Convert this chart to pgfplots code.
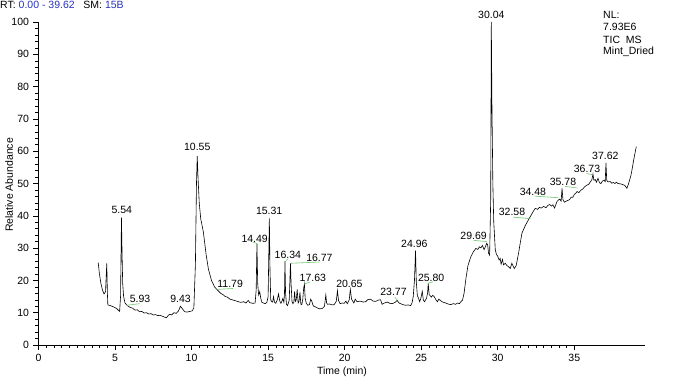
\documentclass[border=0pt]{standalone}
\usepackage{pgfplots}
\pgfplotsset{compat=1.18}
\usepackage{fontspec}
\setmainfont{Liberation Sans}
\definecolor{rtblue}{RGB}{40,50,190}
\definecolor{annot}{RGB}{110,200,110}
\pgfplotstableread{
t y
3.90 25.5
3.98 22.0
4.08 19.0
4.18 17.0
4.28 15.8
4.38 16.5
4.42 21.0
4.46 25.3
4.50 16.0
4.53 12.4
4.70 12.2
4.90 11.8
5.10 11.3
5.30 10.4
5.36 15.0
5.42 39.4
5.46 28.0
5.50 19.0
5.56 15.0
5.65 13.0
5.80 12.2
6.00 11.6
6.15 11.4
6.30 10.8
6.45 10.9
6.60 10.3
6.75 10.4
6.90 9.9
7.05 10.0
7.20 9.6
7.35 9.7
7.50 9.3
7.65 9.4
7.80 9.1
7.95 9.2
8.10 8.9
8.20 8.7
8.35 8.4
8.45 9.0
8.55 9.5
8.70 9.3
8.85 10.0
9.00 9.8
9.15 10.6
9.27 12.0
9.40 11.2
9.55 10.3
9.70 10.2
9.90 10.4
10.05 10.6
10.15 11.5
10.25 25.0
10.32 50.0
10.37 58.5
10.42 52.0
10.50 44.0
10.60 39.0
10.77 35.0
10.95 28.0
11.10 23.5
11.30 20.0
11.50 18.0
11.65 17.2
11.90 16.0
12.05 15.6
12.20 15.0
12.35 14.8
12.50 14.2
12.65 14.0
12.80 13.8
13.00 13.5
13.20 13.2
13.40 13.4
13.55 13.0
13.70 13.8
13.80 13.1
14.00 12.9
14.15 13.0
14.22 17.0
14.27 31.4
14.32 19.0
14.38 15.5
14.45 16.5
14.52 14.5
14.59 13.2
14.70 13.0
14.81 12.8
14.92 13.2
15.00 15.0
15.05 30.0
15.08 39.2
15.12 24.0
15.17 14.0
15.22 13.5
15.30 13.3
15.35 15.0
15.42 13.2
15.50 12.9
15.60 14.0
15.68 15.8
15.76 13.6
15.84 12.9
15.90 13.6
15.96 14.4
16.03 13.2
16.07 16.0
16.10 26.0
16.14 16.0
16.20 12.6
16.26 12.2
16.33 13.0
16.38 14.0
16.46 25.3
16.50 19.0
16.56 13.5
16.62 12.8
16.68 13.2
16.73 16.6
16.78 13.5
16.84 14.0
16.90 17.2
16.96 13.0
17.02 13.5
17.08 16.3
17.14 12.6
17.20 12.5
17.26 14.0
17.32 17.5
17.37 18.9
17.42 14.5
17.50 12.8
17.60 12.3
17.70 12.5
17.78 14.2
17.86 13.5
17.92 12.4
17.98 12.0
18.10 11.8
18.20 11.5
18.35 11.2
18.54 11.3
18.68 12.0
18.77 15.5
18.82 13.0
18.88 12.6
19.00 12.7
19.13 12.5
19.25 12.4
19.33 12.6
19.45 13.5
19.53 16.8
19.60 13.8
19.70 12.8
19.85 13.0
19.97 12.9
20.08 13.6
20.17 12.8
20.30 14.0
20.37 17.2
20.45 14.2
20.60 13.0
20.69 14.2
20.81 13.4
21.00 13.6
21.20 13.3
21.37 13.4
21.50 14.0
21.69 14.2
21.85 13.6
22.02 13.5
22.20 13.9
22.35 14.0
22.44 12.6
22.60 13.0
22.78 13.3
22.95 12.9
23.11 12.8
23.30 13.2
23.43 13.8
23.55 13.0
23.65 12.8
23.80 12.5
23.98 12.3
24.15 12.4
24.31 12.2
24.40 13.0
24.48 15.0
24.56 20.0
24.63 29.2
24.68 19.5
24.75 15.2
24.82 14.6
24.90 13.4
24.98 14.5
25.07 16.6
25.14 13.9
25.22 13.4
25.35 14.5
25.42 16.2
25.46 19.1
25.52 15.6
25.60 15.2
25.66 14.8
25.76 15.4
25.86 14.9
25.96 14.0
26.06 13.4
26.15 14.2
26.25 13.8
26.40 13.3
26.60 13.0
26.75 12.7
26.93 12.5
27.10 12.8
27.25 12.6
27.37 13.0
27.50 12.8
27.59 13.4
27.70 13.9
27.80 16.0
27.92 20.5
28.05 24.5
28.24 27.3
28.40 28.8
28.57 29.9
28.70 29.6
28.80 30.4
28.90 30.1
29.00 30.8
29.11 29.5
29.20 30.5
29.28 31.5
29.34 31.0
29.40 28.4
29.47 27.8
29.54 45.0
29.58 100.0
29.62 75.0
29.68 50.0
29.74 38.0
29.84 29.4
29.92 28.0
30.00 27.5
30.09 26.3
30.16 26.8
30.22 25.0
30.31 26.5
30.38 24.8
30.49 25.3
30.60 24.6
30.72 24.2
30.82 23.7
30.92 25.3
30.97 24.8
31.08 23.7
31.20 24.5
31.36 28.4
31.45 31.0
31.58 34.6
31.80 37.0
32.12 39.7
32.30 41.2
32.45 42.3
32.60 42.0
32.72 42.6
32.84 42.4
33.00 42.9
33.15 42.5
33.27 43.2
33.40 43.5
33.50 43.0
33.60 43.4
33.71 42.4
33.87 44.4
33.95 44.8
34.05 45.2
34.14 44.5
34.20 48.5
34.26 45.0
34.36 44.2
34.50 44.6
34.69 45.0
34.80 45.8
34.90 45.7
35.00 46.6
35.10 47.0
35.18 47.5
35.30 47.2
35.45 48.0
35.56 48.3
35.68 49.0
35.83 49.5
35.95 49.8
36.05 50.5
36.15 51.2
36.22 52.9
36.28 51.0
36.37 51.2
36.45 50.4
36.55 51.6
36.65 50.2
36.74 50.0
36.85 50.8
36.94 51.0
37.02 50.6
37.07 56.4
37.12 51.0
37.20 50.5
37.35 50.6
37.45 50.1
37.55 50.3
37.65 50.0
37.75 50.4
37.85 50.0
38.00 49.9
38.15 49.7
38.30 49.4
38.44 48.5
38.55 50.0
38.70 52.5
38.80 55.0
38.88 57.3
38.97 59.5
39.05 61.4
}\tic
\begin{document}
\begin{tikzpicture}
\begin{axis}[
  scale only axis, width=606.5bp, height=323bp,
  xmin=0, xmax=39.62, ymin=0, ymax=100,
  axis x line=bottom, axis y line=left,
  axis line style={-, line width=0.6bp, black},
  xtick={0,5,...,35}, minor x tick num=9,
  ytick={0,10,...,100}, minor y tick num=4,
  tick align=outside,
  major tick length=5bp, minor tick length=3bp,
  tick style={black, line width=0.5bp},
  every tick label/.append style={font=\fontsize{10.5bp}{12bp}\selectfont, text=black},
  /pgf/number format/assume math mode=true,
  xticklabel style={yshift=-1bp},
  yticklabel style={xshift=-1bp},
  clip=false,
]
\addplot[black, line width=0.6bp] table[x=t, y=y] {\tic};
% peak labels
\begin{scope}[every node/.style={font=\fontsize{10.5bp}{12bp}\selectfont, inner sep=0pt}]
\node at (axis cs:5.44,41.8) {5.54};
\node at (axis cs:6.63,14.3) {5.93};
\node at (axis cs:9.28,14.3) {9.43};
\node at (axis cs:10.37,61.3) {10.55};
\node at (axis cs:12.52,18.9) {11.79};
\node at (axis cs:14.12,32.9) {14.49};
\node at (axis cs:15.07,41.5) {15.31};
\node at (axis cs:16.29,27.8) {16.34};
\node at (axis cs:18.35,27.1) {16.77};
\node at (axis cs:17.92,20.7) {17.63};
\node at (axis cs:20.31,19.0) {20.65};
\node at (axis cs:23.19,16.3) {23.77};
\node at (axis cs:24.55,31.4) {24.96};
\node at (axis cs:25.65,20.8) {25.80};
\node at (axis cs:28.42,33.7) {29.69};
\node at (axis cs:29.58,102.2) {30.04};
\node at (axis cs:30.93,41.2) {32.58};
\node at (axis cs:32.30,47.4) {34.48};
\node at (axis cs:34.26,50.5) {35.78};
\node at (axis cs:35.83,54.5) {36.73};
\node at (axis cs:37.03,58.6) {37.62};
\end{scope}
% annotation connector lines
\begin{scope}[annot, line width=0.6bp]
\draw (axis cs:5.78,12.3) -- (axis cs:6.60,12.8);
\draw (axis cs:11.62,17.2) -- (axis cs:12.70,17.5);
\draw (axis cs:14.00,31.9) -- (axis cs:14.27,31.4);
\draw (axis cs:16.18,26.2) -- (axis cs:16.30,26.6);
\draw (axis cs:16.48,25.3) -- (axis cs:18.35,25.7);
\draw (axis cs:17.37,18.9) -- (axis cs:17.72,19.5);
\draw (axis cs:23.28,14.8) -- (axis cs:23.43,13.9);
\draw (axis cs:25.46,19.1) -- (axis cs:25.78,19.6);
\draw (axis cs:28.42,32.4) -- (axis cs:29.30,32.0);
\draw (axis cs:31.00,39.6) -- (axis cs:32.15,39.1);
\draw (axis cs:32.40,46.1) -- (axis cs:33.95,45.6);
\draw (axis cs:34.40,49.1) -- (axis cs:35.20,48.6);
\draw (axis cs:35.80,53.1) -- (axis cs:36.20,52.7);
\end{scope}
\end{axis}
\begin{scope}[every node/.style={font=\fontsize{10.5bp}{12bp}\selectfont, inner sep=0pt}]
\node[anchor=west] at (-38.5bp,340bp) {RT:\ \textcolor{rtblue}{0.00 - 39.62}\ \ \ SM:\ \textcolor{rtblue}{15B}};
\node[anchor=west] at (564.5bp,330bp) {NL:};
\node[anchor=west] at (564.5bp,318bp) {7.93E6};
\node[anchor=west] at (564.5bp,305bp) {TIC\ \ MS};
\node[anchor=west] at (564.5bp,293bp) {Mint\_Dried};
\node[rotate=90] at (-29.5bp,160bp) {Relative Abundance};
\node at (303.5bp,-27bp) {Time (min)};
\end{scope}
\pgfresetboundingbox
\path (-38.5bp,-34bp) rectangle (646.5bp,345bp);
\end{tikzpicture}
\end{document}
